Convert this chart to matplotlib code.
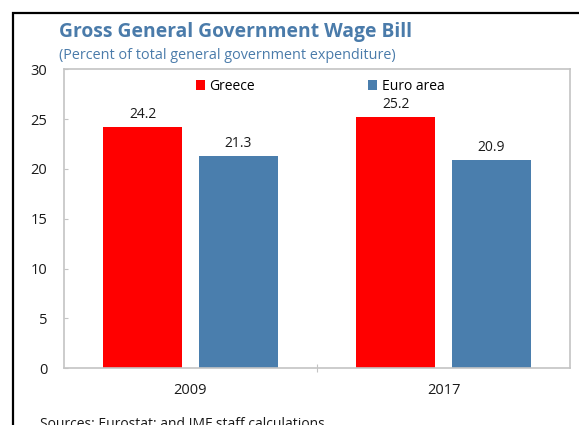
import numpy as np
import matplotlib
matplotlib.use("Agg")
import matplotlib.pyplot as plt
from matplotlib.patches import Rectangle

# Chart data
years = ["2009", "2017"]
greece = [24.2, 25.2]
euro_area = [21.3, 20.9]
series_names = ["Greece", "Euro area"]
y_ticks = [0, 5, 10, 15, 20, 25, 30]

RED = "#FF0000"
BLUE = "#4A7EAD"
TITLE_BLUE = "#4A7BAA"

plt.rcParams["font.family"] = ["Open Sans", "DejaVu Sans"]

W, H = 579, 425
fig = plt.figure(figsize=(W / 100, H / 100), dpi=100)

# black frame around the chart (runs off right and bottom edges)
fig.patches.append(Rectangle((13 / W, -0.1), 1.2, 1 - 12.5 / H + 0.1,
                             transform=fig.transFigure, fill=False,
                             edgecolor="black", linewidth=1.6, clip_on=False))

ax = fig.add_axes([64 / W, 1 - 368 / H, (570 - 64) / W, (368 - 69.5) / H])

x = np.arange(len(years))
offset = 0.188
width = 0.312
b1 = ax.bar(x - offset, greece, width, color=RED, label=series_names[0])
b2 = ax.bar(x + offset, euro_area, width, color=BLUE, label=series_names[1])

for bars, vals in [(b1, greece), (b2, euro_area)]:
    for rect, v in zip(bars, vals):
        ax.annotate(f"{v:.1f}", (rect.get_x() + rect.get_width() / 2, v),
                    xytext=(0, 3.5), textcoords="offset points",
                    ha="center", va="bottom", fontsize=10, color="#1a1a1a")

ax.set_xlim(-0.5, len(years) - 0.5)
ax.set_ylim(0, 30)
ax.set_yticks(y_ticks)
ax.set_xticks(x)
ax.set_xticklabels(years)
ax.set_xticks([0.5], minor=True)

for s in ax.spines.values():
    s.set_color("#C4C4C4")
    s.set_linewidth(1.2)

ax.tick_params(axis="y", direction="in", length=3, width=0.8, color="#C4C4C4",
               pad=12, labelsize=10.5, labelcolor="#1a1a1a")
ax.tick_params(axis="x", which="major", length=0, pad=11, labelsize=10.5,
               labelcolor="#1a1a1a")
ax.tick_params(axis="x", which="minor", direction="inout", length=6, width=0.8,
               color="#C4C4C4")

leg = ax.legend(loc="upper center", bbox_to_anchor=(0.506, 1.0), ncol=2,
                frameon=False, fontsize=10, handlelength=0.7, handleheight=0.7,
                handletextpad=0.3, columnspacing=8.1, borderaxespad=0.3)

fig.text(59 / W, 1 - 37 / H, "Gross General Government Wage Bill",
         fontsize=13.85, fontweight="bold", color=TITLE_BLUE, va="baseline")
fig.text(59 / W, 1 - 59 / H, "(Percent of total general government expenditure)",
         fontsize=10.4, color=TITLE_BLUE, va="baseline")
fig.text(40 / W, 1 - 417 / H, "Sources: Eurostat; and IMF staff calculations",
         fontsize=10, color="#1a1a1a", va="top")

fig.savefig("out.png", dpi=100)
